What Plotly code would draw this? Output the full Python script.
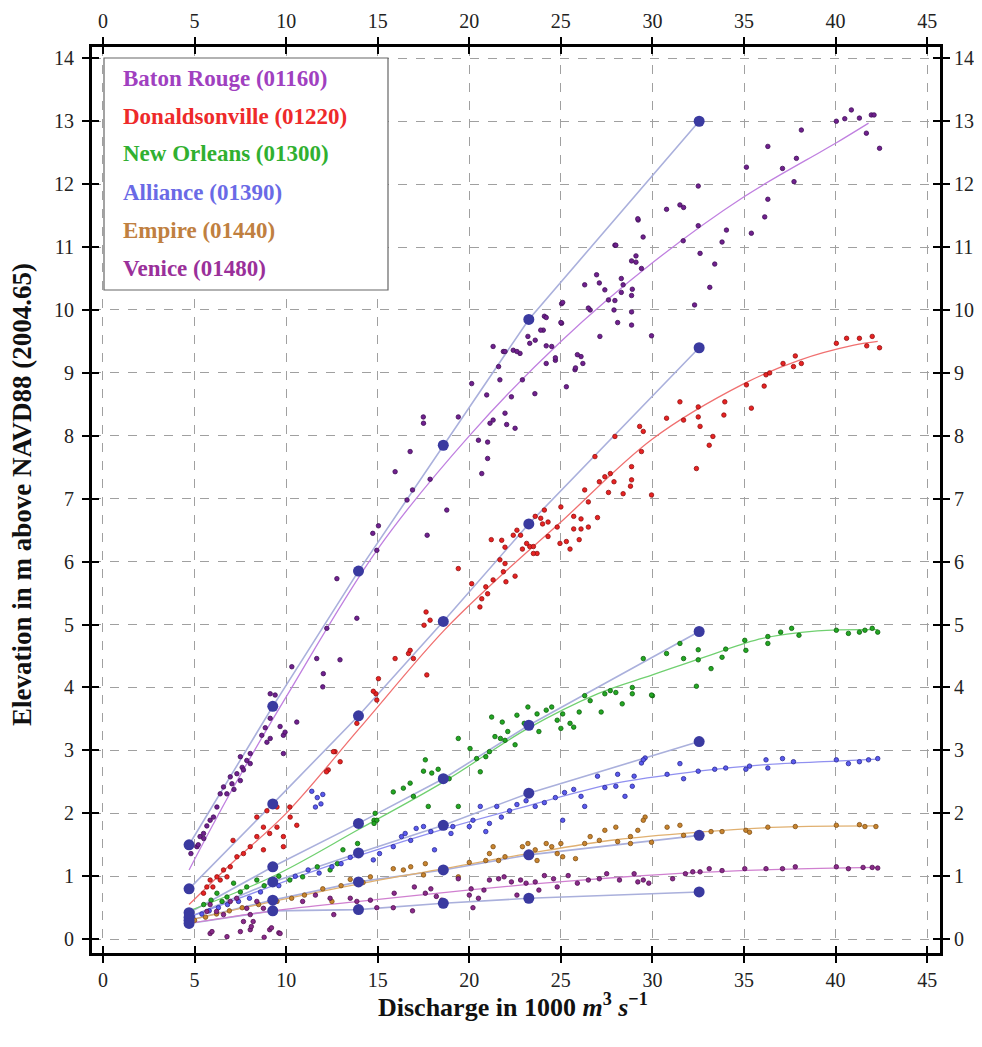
import plotly.graph_objects as go

# ---------------- data ----------------
stations = ["Baton Rouge (01160)", "Donaldsonville (01220)", "New Orleans (01300)",
            "Alliance (01390)", "Empire (01440)", "Venice (01480)"]

baton_rouge_pts = [
    (4.8, 1.36), (5.13, 1.47), (5.2, 1.5), (5.3, 1.63), (5.49, 1.68), (5.5, 1.6), (5.67, 1.8),
    (5.85, 1.89), (6.03, 1.94), (6.22, 2.1), (6.4, 2.31), (6.58, 2.42), (6.76, 2.31), (6.95, 2.58),
    (7.04, 2.47), (7.15, 2.38), (7.31, 2.63), (7.5, 2.52), (7.5, 2.9), (7.6, 2.73), (7.67, 2.69),
    (7.85, 2.84), (8.04, 2.95), (8.04, 2.79), (8.67, 3.24), (8.86, 3.36), (8.95, 3.13), (9.13, 3.51),
    (9.13, 3.19), (9.13, 3.9), (9.4, 3.88), (9.67, 3.38), (9.85, 3.24), (9.94, 3.29), (9.85, 2.95),
    (10.58, 3.45), (10.31, 4.33), (12.0, 4.01), (12.03, 4.22), (11.67, 4.46), (12.94, 4.44),
    (12.22, 4.94), (13.86, 5.1), (12.77, 5.73), (14.73, 6.45), (15.04, 6.57), (14.95, 6.18),
    (15.95, 7.43), (16.6, 6.98), (16.9, 7.14), (16.77, 7.75), (17.86, 7.31), (17.7, 6.42),
    (18.77, 6.82), (20.68, 7.4), (21.0, 7.64), (17.49, 8.3), (17.5, 8.2), (19.4, 8.3), (20.13, 8.83),
    (20.95, 8.65), (20.5, 7.93), (21.0, 7.9), (21.13, 8.2), (21.3, 8.25), (21.95, 8.36), (22.04, 8.18),
    (22.5, 8.12), (21.67, 8.89), (21.6, 9.1), (22.3, 8.62), (22.9, 8.89), (23.58, 8.67), (21.86, 9.34),
    (22.4, 9.36), (22.77, 9.31), (23.3, 9.47), (23.6, 9.52), (24.04, 9.68), (24.1, 9.9), (24.5, 9.42),
    (24.7, 9.2), (25.04, 10.1), (25.04, 9.79), (25.3, 8.78), (25.77, 9.05), (26.1, 9.26), (26.2, 9.15),
    (26.3, 10.4), (26.6, 10.0), (26.95, 10.56), (27.1, 10.43), (27.4, 10.32), (27.6, 10.16),
    (27.13, 9.58), (27.95, 11.03), (28.1, 9.8), (28.86, 10.78), (29.4, 10.66), (28.3, 10.28),
    (27.95, 10.15), (28.86, 10.23), (28.86, 9.97), (28.86, 9.76), (27.9, 10.0), (26.5, 10.03),
    (25.1, 10.12), (24.2, 9.88), (23.9, 9.68), (29.95, 9.59), (25.0, 9.8), (24.2, 9.43), (23.2, 9.58),
    (24.7, 9.24), (24.2, 9.15), (25.9, 9.29), (25.8, 9.08), (22.6, 9.34), (21.95, 9.34), (21.3, 9.42),
    (35.13, 12.27), (32.5, 11.97), (30.77, 11.6), (31.5, 11.67), (31.7, 11.63), (29.22, 11.43),
    (29.49, 11.16), (32.5, 11.34), (34.04, 11.27), (35.4, 11.22), (31.68, 11.1), (33.8, 11.08),
    (28.0, 11.03), (32.6, 10.9), (33.4, 10.73), (33.13, 10.36), (32.3, 10.08), (40.04, 13.0),
    (40.5, 13.04), (40.86, 13.18), (41.3, 13.05), (41.68, 12.81), (41.95, 13.1), (42.1, 13.1),
    (42.4, 12.57), (38.13, 12.86), (37.86, 12.41), (37.1, 12.25), (36.3, 12.6), (37.73, 12.04),
    (36.3, 11.76), (36.13, 11.48), (29.2, 11.45), (29.1, 10.86), (29.1, 10.76), (28.9, 10.33),
    (28.3, 10.5), (28.4, 10.4),
]

donaldsonville_pts = [
    (5.49, 0.73), (5.67, 0.83), (5.85, 0.94), (6.0, 0.83), (6.22, 0.99), (6.4, 0.94), (6.58, 1.1),
    (6.77, 0.99), (6.95, 1.15), (7.1, 1.57), (7.31, 1.31), (7.67, 1.36), (8.04, 1.47), (8.4, 1.63),
    (8.76, 1.42), (8.76, 1.78), (9.1, 1.68), (9.5, 1.78), (9.85, 1.63), (9.85, 1.47), (10.22, 1.94),
    (10.58, 1.81), (10.2, 2.1), (9.5, 2.1), (8.95, 2.04), (8.4, 1.94), (12.3, 2.69), (12.67, 2.98),
    (12.95, 2.82), (12.58, 2.98), (12.2, 2.66), (13.86, 3.43), (14.95, 3.8), (14.9, 3.9),
    (14.76, 3.94), (15.04, 4.14), (15.95, 4.46), (16.68, 4.54), (16.77, 4.59), (16.95, 4.46),
    (17.68, 4.2), (17.64, 5.2), (17.86, 5.07), (17.53, 4.99), (19.4, 5.89), (20.13, 5.65),
    (20.58, 5.28), (20.68, 5.41), (21.0, 5.49), (20.9, 5.6), (21.3, 5.71), (21.67, 6.03),
    (21.95, 5.97), (21.86, 5.84), (22.0, 5.68), (22.5, 5.77), (21.2, 6.35), (21.77, 6.34),
    (21.95, 6.23), (22.6, 6.5), (22.8, 6.42), (22.4, 6.42), (22.9, 6.2), (23.3, 6.24), (23.7, 6.13),
    (24.1, 6.82), (23.9, 6.69), (23.13, 6.29), (23.5, 6.24), (23.5, 6.13), (23.6, 6.72), (24.0, 6.6),
    (24.3, 6.63), (24.95, 6.29), (25.3, 6.32), (25.0, 6.87), (25.7, 6.72), (26.1, 6.68), (25.7, 6.52),
    (26.1, 6.52), (27.0, 6.7), (26.3, 7.14), (26.5, 6.95), (26.86, 7.67), (27.7, 7.4), (27.4, 7.35),
    (27.9, 7.27), (27.1, 7.27), (27.6, 7.1), (28.4, 7.08), (27.95, 7.99), (29.3, 8.15), (29.5, 8.07),
    (29.4, 7.75), (28.86, 7.51), (28.86, 7.3), (28.8, 7.2), (29.95, 7.06), (30.77, 8.28), (31.5, 8.54),
    (31.7, 8.25), (32.5, 8.46), (32.6, 8.15), (32.5, 8.3), (33.3, 7.99), (33.1, 7.85), (32.4, 7.48),
    (33.95, 8.54), (33.9, 8.33), (35.13, 8.81), (35.4, 8.44), (36.2, 8.97), (36.4, 9.0), (36.1, 8.79),
    (37.13, 9.15), (37.7, 9.1), (38.13, 9.15), (37.8, 9.27), (40.04, 9.47), (40.6, 9.55), (41.3, 9.55),
    (41.7, 9.43), (42.0, 9.58), (42.4, 9.4), (24.8, 6.55), (24.3, 6.4), (25.5, 6.2), (26.0, 6.35),
    (26.5, 6.55),
]

new_orleans_pts = [
    (5.5, 0.55), (5.9, 0.62), (6.22, 0.73), (6.5, 0.6), (6.77, 0.67), (7.13, 0.89), (7.5, 0.75),
    (7.85, 0.83), (8.4, 0.94), (8.8, 0.85), (9.6, 1.0), (10.2, 0.94), (10.9, 0.99), (11.7, 1.15),
    (12.4, 1.1), (12.8, 1.2), (13.1, 1.42), (13.9, 1.52), (14.8, 1.89), (14.86, 2.0), (14.95, 1.89),
    (14.8, 1.84), (15.85, 2.34), (16.4, 2.4), (16.77, 2.48), (16.95, 2.27), (17.6, 2.85), (17.5, 2.67),
    (17.95, 2.64), (17.76, 2.11), (18.3, 2.7), (18.9, 2.55), (19.4, 3.19), (19.4, 2.11), (20.04, 3.03),
    (20.4, 2.87), (20.6, 2.66), (20.9, 2.9), (21.1, 2.98), (21.22, 3.53), (21.4, 3.22), (21.7, 3.19),
    (21.8, 3.45), (21.95, 3.16), (22.1, 3.3), (22.5, 3.09), (22.6, 3.56), (23.0, 3.43), (23.2, 3.69),
    (23.7, 3.58), (23.8, 3.3), (24.2, 3.64), (24.5, 3.69), (24.8, 3.48), (25.0, 3.35), (25.1, 3.58),
    (25.5, 3.43), (25.7, 3.37), (26.0, 3.61), (26.3, 3.87), (26.6, 3.79), (27.2, 3.61), (27.4, 3.9),
    (27.7, 3.95), (28.0, 3.92), (28.35, 3.74), (28.9, 4.0), (28.9, 3.9), (30.0, 3.87), (29.5, 4.46),
    (29.95, 3.88), (30.77, 4.54), (31.5, 4.7), (31.7, 4.46), (32.5, 4.6), (32.5, 4.44), (32.4, 4.02),
    (33.2, 4.3), (33.8, 4.48), (34.0, 4.61), (35.04, 4.75), (35.1, 4.59), (36.3, 4.81), (36.3, 4.7),
    (37.0, 4.88), (37.6, 4.94), (38.0, 4.83), (40.04, 4.91), (40.7, 4.86), (41.3, 4.88), (41.6, 4.91),
    (42.0, 4.94), (42.3, 4.88),
]

alliance_pts = [
    (4.9, 0.35), (5.4, 0.4), (5.8, 0.45), (6.3, 0.5), (6.8, 0.55), (7.4, 0.6), (8.0, 0.65),
    (8.6, 0.75), (9.6, 0.85), (10.5, 1.0), (11.2, 1.1), (11.8, 1.05), (12.5, 1.15), (13.0, 1.2),
    (13.5, 1.3), (11.4, 2.35), (11.7, 2.25), (11.9, 2.15), (11.6, 2.1), (12.0, 2.3), (14.76, 1.26),
    (15.1, 1.36), (15.85, 1.47), (16.3, 1.63), (16.5, 1.68), (16.8, 1.57), (17.1, 1.76), (17.5, 1.79),
    (17.9, 1.71), (18.1, 1.42), (19.0, 1.68), (19.1, 1.79), (20.0, 1.79), (20.2, 1.89), (20.6, 2.11),
    (20.9, 1.71), (21.1, 1.84), (21.5, 2.11), (21.75, 1.94), (22.2, 2.04), (22.6, 2.14), (23.1, 2.2),
    (23.6, 2.11), (24.1, 2.17), (24.7, 2.25), (25.1, 1.89), (25.2, 2.33), (25.7, 2.38), (26.1, 2.27),
    (26.3, 2.11), (27.0, 2.59), (27.4, 2.41), (28.0, 2.43), (28.1, 2.62), (28.5, 2.27), (28.9, 2.43),
    (29.0, 2.59), (29.4, 2.8), (29.6, 2.88), (30.8, 2.62), (29.5, 2.85), (31.5, 2.79), (31.7, 2.55),
    (32.5, 2.67), (33.4, 2.7), (34.0, 2.72), (35.1, 2.7), (35.3, 2.75), (36.2, 2.85), (36.3, 2.72),
    (37.1, 2.87), (37.7, 2.82), (40.04, 2.85), (40.7, 2.79), (41.3, 2.82), (41.8, 2.85), (42.3, 2.87),
]

empire_pts = [
    (5.0, 0.3), (5.6, 0.35), (6.2, 0.4), (6.9, 0.45), (7.6, 0.5), (8.5, 0.55), (9.5, 0.6),
    (10.3, 0.65), (11.0, 0.7), (12.0, 0.8), (12.5, 0.6), (13.0, 0.85), (13.5, 0.95), (14.2, 0.9),
    (14.6, 0.99), (15.85, 1.12), (16.4, 1.1), (16.8, 1.15), (17.6, 1.2), (17.5, 1.02), (19.4, 0.99),
    (20.0, 1.22), (20.9, 1.25), (21.1, 1.36), (21.3, 1.47), (21.6, 1.25), (21.95, 1.31), (22.9, 1.47),
    (23.2, 1.52), (23.6, 1.42), (23.7, 1.25), (24.2, 1.52), (24.5, 1.47), (24.8, 1.36), (25.0, 1.52),
    (25.1, 1.31), (25.8, 1.28), (26.3, 1.52), (26.6, 1.63), (27.1, 1.57), (27.4, 1.73), (28.0, 1.78),
    (28.1, 1.55), (28.8, 1.52), (28.8, 1.63), (29.2, 1.73), (29.6, 1.94), (30.8, 1.78), (29.5, 1.89),
    (29.95, 1.54), (31.5, 1.81), (31.7, 1.65), (33.2, 1.71), (33.8, 1.71), (35.1, 1.73), (35.3, 1.7),
    (36.3, 1.78), (37.8, 1.79), (40.04, 1.81), (41.3, 1.82), (41.6, 1.79), (42.2, 1.79),
]

venice_pts = [
    (5.67, 0.44), (5.85, 0.55), (5.85, 0.09), (5.95, 0.12), (6.2, 0.44), (6.58, 0.39), (6.77, 0.04),
    (6.95, 0.6), (7.3, 0.65), (7.5, 0.12), (7.67, 0.28), (7.85, 0.49), (8.04, 0.39), (8.04, 0.15),
    (8.1, 0.2), (8.2, 0.28), (8.4, 0.6), (8.76, 0.49), (8.8, 0.03), (9.1, 0.15), (9.2, 0.18),
    (9.6, 0.1), (9.67, 0.09), (10.9, 0.6), (11.6, 0.7), (12.4, 0.65), (12.6, 0.39), (13.5, 0.65),
    (13.86, 0.6), (14.6, 0.62), (14.95, 0.5), (15.85, 0.5), (15.9, 0.73), (16.9, 0.45), (17.0, 0.83),
    (17.6, 0.73), (17.9, 0.8), (18.2, 0.68), (18.5, 0.62), (19.4, 0.96), (20.0, 0.7), (20.2, 0.5),
    (20.1, 0.8), (20.5, 0.65), (20.8, 0.78), (21.1, 0.94), (21.6, 0.96), (21.9, 0.99), (22.3, 0.91),
    (22.6, 0.7), (22.8, 0.94), (23.1, 0.89), (23.6, 0.91), (23.8, 0.78), (24.1, 1.01), (24.6, 0.96),
    (24.8, 0.83), (25.4, 1.01), (25.9, 0.89), (26.5, 0.94), (27.1, 0.96), (27.5, 1.04), (28.2, 0.94),
    (29.0, 1.04), (29.2, 0.91), (29.8, 0.89), (29.5, 0.94), (31.1, 0.96), (31.8, 1.04), (32.2, 1.07),
    (32.6, 1.07), (33.1, 1.12), (33.8, 1.09), (35.04, 1.12), (36.2, 1.12), (37.1, 1.12), (37.8, 1.15),
    (40.04, 1.15), (40.7, 1.12), (41.5, 1.14), (42.0, 1.14), (42.3, 1.13),
]

# reference discharges (blue markers) and stage at each station
ref_discharge = [4.7, 9.27, 13.95, 18.58, 23.25, 32.55]
baton_rouge_ref = [1.5, 3.7, 5.85, 7.85, 9.85, 13.0]
donaldsonville_ref = [0.8, 2.15, 3.55, 5.05, 6.6, 9.4]
new_orleans_ref = [0.42, 1.15, 1.84, 2.55, 3.4, 4.89]
alliance_ref = [0.35, 0.91, 1.37, 1.81, 2.32, 3.14]
empire_ref = [0.3, 0.62, 0.91, 1.1, 1.34, 1.65]
venice_ref = [0.25, 0.45, 0.47, 0.57, 0.65, 0.75]

# fitted rating curves (knots)
baton_rouge_fit_x = [4.7, 7, 10, 15, 20, 25, 30, 35, 40, 41.8]
baton_rouge_fit_y = [1.1, 2.35, 3.85, 6.2, 8.0, 9.5, 10.75, 11.8, 12.65, 12.97]
donaldsonville_fit_x = [4.7, 7, 10, 14, 18.6, 22, 25, 30, 35, 38, 41, 42.3]
donaldsonville_fit_y = [0.55, 1.2, 2.0, 3.35, 4.9, 5.85, 6.63, 7.95, 8.83, 9.2, 9.44, 9.5]
new_orleans_fit_x = [4.7, 9.3, 14, 18.6, 23.2, 27, 30, 33, 36, 39, 42.3]
new_orleans_fit_y = [0.45, 1.0, 1.75, 2.5, 3.35, 3.9, 4.2, 4.5, 4.78, 4.9, 4.92]
alliance_fit_x = [4.7, 9.3, 14, 18.6, 23.2, 28, 32.5, 36, 40, 42.3]
alliance_fit_y = [0.35, 0.85, 1.33, 1.75, 2.12, 2.48, 2.67, 2.77, 2.83, 2.86]
empire_fit_x = [4.7, 9.3, 14, 18.6, 23.2, 28, 32.5, 37, 42.3]
empire_fit_y = [0.3, 0.6, 0.88, 1.12, 1.36, 1.58, 1.7, 1.78, 1.8]
venice_fit_x = [4.7, 9.3, 14, 18.6, 23.2, 28, 32.5, 37, 42.3]
venice_fit_y = [0.25, 0.45, 0.6, 0.74, 0.87, 0.98, 1.06, 1.11, 1.14]

x_ticks = [0, 5, 10, 15, 20, 25, 30, 35, 40, 45]
y_ticks = list(range(0, 15))

# ---------------- styling ----------------
dot_colors = ["#70208e", "#e82222", "#22a822", "#5a5aee", "#c8842e", "#8a2a8a"]
dot_edges = ["#401058", "#901010", "#106010", "#2a2a90", "#805018", "#501050"]
fit_colors = ["#c080e0", "#f07070", "#70d070", "#9090f0", "#e0b070", "#d080d0"]
label_colors = ["#a040c0", "#ee2a2a", "#30b030", "#6a6ae6", "#c08040", "#9a309a"]
ref_line_color = "#aab0dc"
ref_marker_color = "#3a3aa0"
FONT = "Liberation Serif"

pts_list = [baton_rouge_pts, donaldsonville_pts, new_orleans_pts, alliance_pts, empire_pts, venice_pts]
ref_list = [baton_rouge_ref, donaldsonville_ref, new_orleans_ref, alliance_ref, empire_ref, venice_ref]
fit_list = [(baton_rouge_fit_x, baton_rouge_fit_y), (donaldsonville_fit_x, donaldsonville_fit_y),
            (new_orleans_fit_x, new_orleans_fit_y), (alliance_fit_x, alliance_fit_y),
            (empire_fit_x, empire_fit_y), (venice_fit_x, venice_fit_y)]

fig = go.Figure()

# blue reference lines
for i, refs in enumerate(ref_list):
    fig.add_trace(go.Scatter(x=ref_discharge, y=refs, mode="lines",
                             line=dict(color=ref_line_color, width=1.6),
                             showlegend=False, hoverinfo="skip"))

# fitted curves
for i, (fx, fy) in enumerate(fit_list):
    fig.add_trace(go.Scatter(x=fx, y=fy, mode="lines", line_shape="spline",
                             line=dict(color=fit_colors[i], width=1.3),
                             showlegend=False, hoverinfo="skip"))

# observations
for i, pts in enumerate(pts_list):
    xs = [p[0] for p in pts]
    ys = [p[1] for p in pts]
    fig.add_trace(go.Scatter(x=xs, y=ys, mode="markers", name=stations[i],
                             marker=dict(size=4.5, color=dot_colors[i],
                                         line=dict(color=dot_edges[i], width=0.8)),
                             showlegend=False))

# reference markers
for i, refs in enumerate(ref_list):
    fig.add_trace(go.Scatter(x=ref_discharge, y=refs, mode="markers",
                             marker=dict(size=11, color=ref_marker_color),
                             showlegend=False, hoverinfo="skip"))

# dummy trace for secondary axes
fig.add_trace(go.Scatter(x=[None], y=[None], xaxis="x2", yaxis="y2",
                         showlegend=False, hoverinfo="skip"))

x_range = [-0.6, 45.7]
y_range = [-0.22, 14.18]
tickfont = dict(family=FONT, size=20, color="#222")

common_x = dict(range=x_range, tickvals=x_ticks, tickfont=tickfont, zeroline=False,
                showline=True, linecolor="black", linewidth=3, ticklen=7, tickwidth=2,
                tickcolor="black", automargin=False)
common_y = dict(range=y_range, tickvals=y_ticks, tickfont=tickfont, zeroline=False,
                showline=True, linecolor="black", linewidth=3, ticklen=7, tickwidth=2,
                tickcolor="black", automargin=False)

# the page has an 8px body margin; plot area targeted at page px x 92..940, y 47..953
fig.update_layout(
    width=982, height=1047,
    margin=dict(l=84, r=50, t=39, b=102, autoexpand=False),
    paper_bgcolor="white", plot_bgcolor="white",
    showlegend=False,
    xaxis=dict(**common_x, side="bottom", ticks="outside", mirror="allticks",
               showgrid=True, gridcolor="#a0a0a0", gridwidth=1, griddash="dash"),
    yaxis=dict(**common_y, side="left", ticks="outside", mirror="allticks",
               showgrid=True, gridcolor="#a0a0a0", gridwidth=1, griddash="dash",
               ticklabelstandoff=4),
    xaxis2=dict(**common_x, side="top", overlaying="x", ticks="inside", mirror="allticks",
                showgrid=False, ticklabelstandoff=8),
    yaxis2=dict(**common_y, side="right", overlaying="y", ticks="inside", mirror="allticks",
                showgrid=False, ticklabelstandoff=7),
)

# legend box (coordinates given in page pixels, converted to paper fractions)
def px_to_paper_x(px):
    return (px - 92) / 848.0

def px_to_paper_y(py):
    return 1 - (py - 47) / 906.0

fig.add_shape(type="rect", xref="paper", yref="paper",
              x0=px_to_paper_x(104), x1=px_to_paper_x(388),
              y0=px_to_paper_y(290), y1=px_to_paper_y(58),
              line=dict(color="#666666", width=1.2), fillcolor="white", layer="above")

legend_rows = [79, 116, 153, 192, 230, 268]
for i, name in enumerate(stations):
    fig.add_annotation(xref="paper", yref="paper", x=px_to_paper_x(121), y=px_to_paper_y(legend_rows[i]),
                       text="<b>" + name + "</b>", showarrow=False, xanchor="left", yanchor="middle",
                       font=dict(family=FONT, size=23, color=label_colors[i]))

# axis titles
fig.add_annotation(xref="paper", yref="paper", x=px_to_paper_x(22), y=px_to_paper_y(495),
                   text="<b>Elevation in m above NAVD88 (2004.65)</b>", textangle=-90,
                   showarrow=False, xanchor="center", yanchor="middle",
                   font=dict(family=FONT, size=27, color="#111"))
fig.add_annotation(xref="paper", yref="paper", x=px_to_paper_x(513), y=px_to_paper_y(1005),
                   text="<b>Discharge in 1000 </b><i><b>m</b></i><sup><b>3</b></sup><b> </b><i><b>s</b></i><sup><b>−1</b></sup>",
                   showarrow=False, xanchor="center", yanchor="middle",
                   font=dict(family=FONT, size=26, color="#111"))

fig.write_html("out.html")
